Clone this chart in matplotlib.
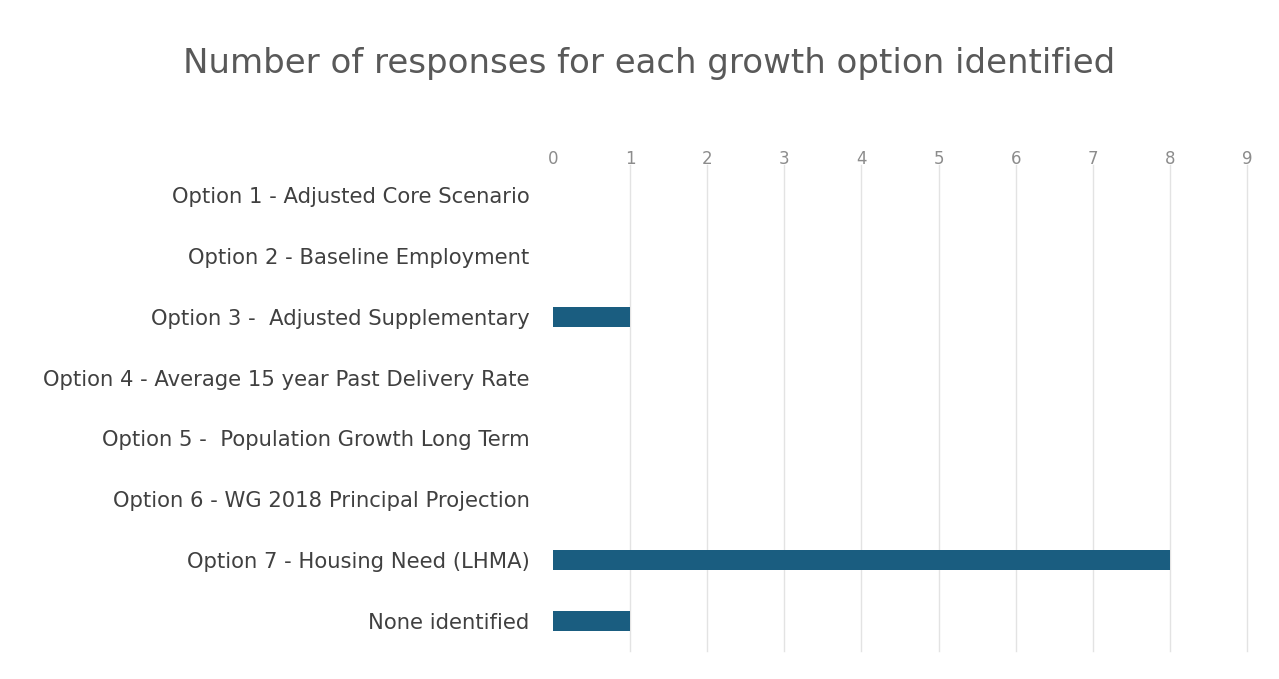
import matplotlib.pyplot as plt
import numpy as np

options = ['Option 1 - Adjusted Core Scenario',
           'Option 2 - Baseline Employment',
           'Option 3 -  Adjusted Supplementary',
           'Option 4 - Average 15 year Past Delivery Rate',
           'Option 5 -  Population Growth Long Term',
           'Option 6 - WG 2018 Principal Projection',
           'Option 7 - Housing Need (LHMA)',
           'None identified']
responses = [0, 0, 1, 0, 0, 0, 8, 1]
ticks = list(range(0, 10))

fig = plt.figure(figsize=(12.79, 6.79), dpi=100)
ax = fig.add_axes([553/1279, 1-651/679, (1247-553)/1279, (651-165)/679])

y = np.arange(len(options))
ax.barh(y, responses, height=0.33, color='#1a5d80')
ax.set_ylim(len(options)-0.5, -0.5)
ax.set_xlim(0, 9)
ax.set_yticks(y)
ax.set_yticklabels(options, fontsize=15.2, color='#404040')
ax.set_xticks(ticks)
ax.xaxis.tick_top()
ax.tick_params(axis='x', length=0, labelsize=12, labelcolor='#8c8c8c', pad=-2)
ax.tick_params(axis='y', length=0, pad=17)
ax.grid(axis='x', color='#e3e3e3', linewidth=1)
for gl in ax.get_xgridlines():
    gl.set_clip_on(False)
ax.get_xgridlines()[0].set_visible(False)
ax.set_axisbelow(True)
for s in ax.spines.values():
    s.set_visible(False)

fig.text(649/1279, 1-63/679, 'Number of responses for each growth option identified',
         ha='center', va='center', fontsize=24.5, color='#595959')

fig.savefig('out.png', dpi=100)
